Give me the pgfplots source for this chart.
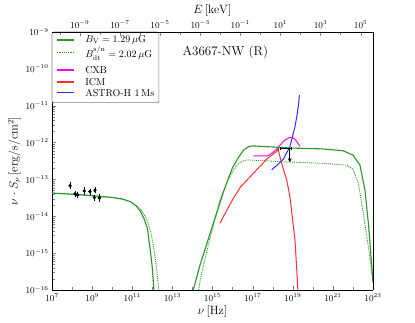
\documentclass[border=0pt]{standalone}
\usepackage{pgfplots}
\pgfplotsset{compat=1.18}
\usetikzlibrary{arrows.meta}
\definecolor{cgreen}{RGB}{40,150,40}
\definecolor{cred}{RGB}{255,45,45}
\definecolor{cmag}{RGB}{255,0,255}
\definecolor{cblue}{RGB}{45,45,255}
\begin{document}
\begin{tikzpicture}
\useasboundingbox (-52pt,-33pt) rectangle (363pt,290pt);
\begin{axis}[
  at={(0pt,0pt)}, anchor=south west,
  scale only axis, width=321pt, height=258pt,
  xmode=log, ymode=log,
  xmin=1e7, xmax=1e23, ymin=1e-16, ymax=1e-9,
  xtick={1e7,1e9,1e11,1e13,1e15,1e17,1e19,1e21,1e23},
  minor xtick={1e8,1e10,1e12,1e14,1e16,1e18,1e20,1e22},
  ytick={1e-16,1e-15,1e-14,1e-13,1e-12,1e-11,1e-10,1e-9},
  axis x line*=bottom,
  axis y line*=left,
  tick label style={font=\small},
  label style={font=\large},
  xlabel={$\nu\,[\mathrm{Hz}]$},
  ylabel={$\nu\cdot S_\nu\,[\mathrm{erg/s/cm^2}]$},
  xlabel style={yshift=3pt},
  ylabel style={yshift=-2pt},
  tick align=inside,
  clip=false,
]
% B_V solid
\addplot[color=cgreen, line width=1.1pt] coordinates {
(1e7,4.27e-14) (1e8,3.98e-14) (1e9,3.63e-14) (1e10,3.24e-14) (3.16e10,2.95e-14)
(7.94e10,2.51e-14) (1.585e11,1.91e-14) (2.51e11,1.38e-14) (3.98e11,8.32e-15)
(5.62e11,4.79e-15) (7.94e11,1.20e-15) (1e12,3.98e-16) (1.2e12,1e-16)};
% B_dt dotted
\addplot[color=cgreen, densely dotted, line width=0.9pt] coordinates {
(1e7,4.22e-14) (1e8,3.94e-14) (1e9,3.60e-14) (1e10,3.21e-14) (3.16e10,2.92e-14)
(7.94e10,2.49e-14) (1.585e11,1.95e-14) (2.51e11,1.58e-14) (3.98e11,1.12e-14)
(6.31e11,6.31e-15) (8.91e11,3.16e-15) (1.26e12,1.12e-15) (1.66e12,3.55e-16)
(2.09e12,1e-16)};
% CXB
\addplot[color=cmag, line width=1pt] coordinates {
(1.1e17,4.37e-13) (5.62e17,4.37e-13) (1e18,5.37e-13) (1.585e18,6.61e-13)
(2.51e18,8.91e-13) (3.98e18,1.17e-12) (7.08e18,1.38e-12) (1.12e19,1.32e-12)
(1.585e19,1.07e-12) (2.29e19,7.94e-13)};
% ICM
\addplot[color=cred, line width=1pt] coordinates {
(2.34e15,6.46e-15) (5.01e15,1.41e-14) (1.1e16,3.09e-14) (2.51e16,6.31e-14)
(7.41e16,1.17e-13) (2.0e17,2.09e-13) (5.01e17,3.55e-13) (1e18,4.79e-13)
(1.585e18,5.75e-13) (1.9e18,6.92e-13) (2.09e18,5.01e-13) (2.82e18,2.69e-13)
(5.01e18,9.55e-14) (7.24e18,3.39e-14) (1.29e19,2.29e-15) (1.7e19,1.86e-16)
(1.8e19,1e-16)};
% ASTRO-H
\addplot[color=cblue, line width=1pt] coordinates {
(8.91e17,1.82e-13) (1.585e18,2.4e-13) (3.39e18,3.55e-13) (7.24e18,7.76e-13)
(1.29e19,2.69e-12) (1.7e19,6.31e-12) (2.0e19,1.26e-11) (2.14e19,1.95e-11)};
% high-frequency green parts
\addplot[cgreen, line width=1.1pt] coordinates {
(1.1e14,1e-16) (2.4e14,4.79e-16) (6.31e14,2.51e-15) (1.585e15,1.20e-14)
(3.98e15,5.62e-14) (1e16,2.09e-13) (2.0e16,3.98e-13) (3.55e16,6.31e-13)
(6.31e16,7.76e-13) (1e17,8.13e-13) (1e18,7.59e-13) (1e19,7.08e-13)
(2.51e20,6.76e-13) (3.16e21,6.03e-13) (1e22,4.57e-13) (2.24e22,2.45e-13)
(3.98e22,5.13e-14) (5.89e22,6.46e-15) (8.51e22,5.25e-16) (1e23,1.58e-16)};
\addplot[cgreen, densely dotted, line width=0.9pt] coordinates {
(2.1e14,1e-16) (2.4e14,1.78e-16) (6.31e14,1.78e-15) (2.34e15,2.75e-14)
(6.31e15,1.05e-13) (1.585e16,2.4e-13) (3.16e16,3.16e-13) (5.62e16,3.39e-13)
(3.16e17,3.24e-13) (3.16e18,3.02e-13) (2.51e20,2.75e-13) (5.01e21,2.45e-13)
(1e22,1.91e-13) (1.86e22,7.94e-14) (3.31e22,1.20e-14) (5.89e22,1.48e-15)
(8.51e22,3.47e-16) (1e23,1.58e-16)};
% radio data
\addplot[black, only marks, mark=*, mark size=1.5pt,
  error bars/.cd, y dir=both, y explicit, error mark options={draw=none}, error bar style={line width=0.9pt}]
  coordinates {
(7.94e7,6.76e-14) +- (0,0.9e-14)
(1.41e8,4.07e-14) +- (0,0.3e-14)
(1.9e8,3.8e-14) +- (0,0.3e-14)
(4.07e8,4.9e-14) +- (0,0.7e-14)
(7.76e8,4.68e-14) +- (0,0.4e-14)
(1.38e9,5.13e-14) +- (0,0.5e-14)
(1.29e9,3.24e-14) +- (0,0.3e-14)
(2.29e9,3.16e-14) +- (0,0.4e-14)};
% upper limit
\addplot[black, line width=1pt] coordinates {(2.34e18,6.92e-13) (8.91e18,6.92e-13)};
\addplot[black, line width=0.8pt] coordinates {(2.34e18,6.1e-13) (2.34e18,7.8e-13)};
\addplot[black, line width=0.8pt] coordinates {(8.91e18,6.1e-13) (8.91e18,7.8e-13)};
\addplot[black, line width=1pt, -{Stealth[length=4pt,width=4pt]}] coordinates {(7.08e18,6.92e-13) (7.08e18,2.95e-13)};
\node[font=\fontsize{13}{15}\selectfont] at (rel axis cs:0.54,0.922) {A3667-NW (R)};
% legend
\draw[gray, fill=white, rounded corners=2pt, line width=0.6pt] (rel axis cs:0,1) rectangle (rel axis cs:0.333,0.726);
\draw[cgreen, line width=1.6pt] (rel axis cs:0.0165,0.969) -- (rel axis cs:0.0685,0.969);
\draw[cgreen, densely dotted, line width=1.2pt] (rel axis cs:0.0165,0.920) -- (rel axis cs:0.0685,0.920);
\draw[cmag, line width=1.6pt] (rel axis cs:0.0165,0.853) -- (rel axis cs:0.0685,0.853);
\draw[cred, line width=1.6pt] (rel axis cs:0.0165,0.807) -- (rel axis cs:0.0685,0.807);
\draw[cblue, line width=1.6pt] (rel axis cs:0.0165,0.765) -- (rel axis cs:0.0685,0.765);
\node[anchor=west, inner sep=0pt] at (rel axis cs:0.103,0.969) {$B_{\mathrm{V}}=1.29\,\mu\mathrm{G}$};
\node[anchor=west, inner sep=0pt] at (rel axis cs:0.103,0.917) {$B_{\mathrm{dt}}^{\mathrm{s/n}}=2.02\,\mu\mathrm{G}$};
\node[anchor=west, inner sep=0pt] at (rel axis cs:0.103,0.853) {CXB};
\node[anchor=west, inner sep=0pt] at (rel axis cs:0.103,0.807) {ICM};
\node[anchor=west, inner sep=0pt] at (rel axis cs:0.103,0.765) {ASTRO-H 1\,Ms};
\end{axis}
\begin{axis}[
  at={(0pt,0pt)}, anchor=south west,
  scale only axis, width=321pt, height=258pt,
  xmode=log, ymode=log,
  xmin=4.136e-11, xmax=4.136e5, ymin=1e-16, ymax=1e-9,
  axis x line*=top, axis y line*=right,
  ytick=\empty, yticklabels={},
  xtick={1e-9,1e-7,1e-5,1e-3,1e-1,1e1,1e3,1e5},
  minor xtick={1e-10,1e-8,1e-6,1e-4,1e-2,1e0,1e2,1e4},
  tick label style={font=\small},
  label style={font=\large},
  xlabel={$E\,[\mathrm{keV}]$},
  xlabel style={yshift=-3pt},
  tick align=inside,
]
\addplot[draw=none] coordinates {(1e-5,1e-12)};
\end{axis}
\end{tikzpicture}
\end{document}
